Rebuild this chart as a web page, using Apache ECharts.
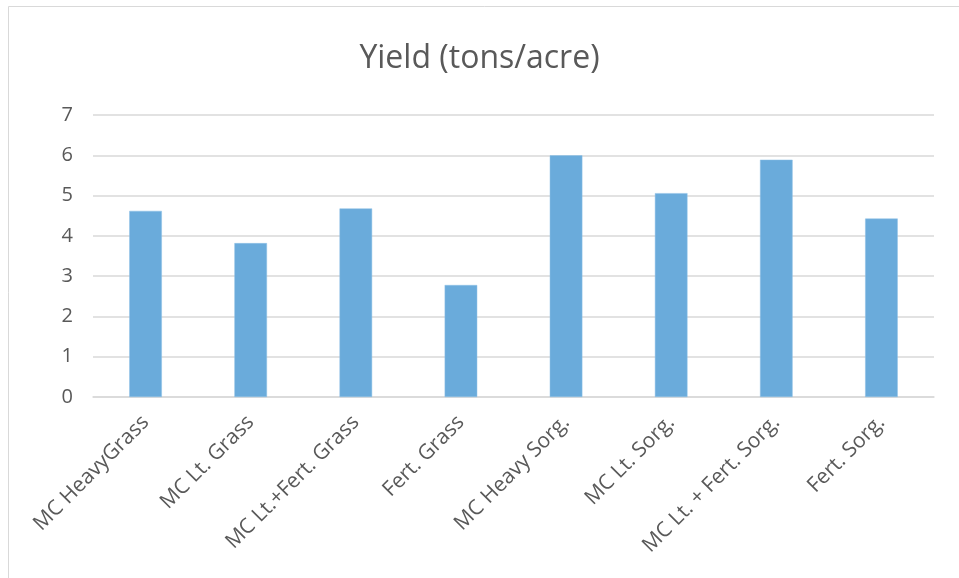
<!DOCTYPE html>
<html>
<head>
<meta charset="utf-8">
<script src="https://cdn.jsdelivr.net/npm/echarts@6/dist/echarts.min.js"></script>
<style>
  html, body { margin: 0; padding: 0; background: #fff; }
  #chart { width: 959px; height: 578px; }
</style>
</head>
<body>
<div id="chart"></div>
<script>
// categories along the x axis
const categories = [
  'MC HeavyGrass',
  'MC Lt. Grass',
  'MC Lt.+Fert. Grass',
  'Fert. Grass',
  'MC Heavy Sorg.',
  'MC Lt. Sorg.',
  'MC Lt. + Fert. Sorg.',
  'Fert. Sorg.'
]
// yield values
const yieldValues = [4.62, 3.82, 4.68, 2.78, 6.0, 5.06, 5.89, 4.43]
const titleText = 'Yield (tons/acre)'

const chart = echarts.init(document.getElementById('chart'))
const textColor = '#595959'
const fontFamily = '"Open Sans", "Noto Sans", sans-serif'

const option = {
  animation: false,
  backgroundColor: '#fff',
  title: {
    text: titleText,
    left: 'center',
    top: 38,
    textStyle: {
      color: textColor,
      fontSize: 32,
      fontWeight: 'normal',
      fontFamily: fontFamily
    }
  },
  // thin frame of the chart area, like the Excel chart border
  graphic: [
    {
      type: 'rect',
      shape: { x: 8.5, y: 6.5, width: 1000, height: 1000 },
      style: { fill: 'none', stroke: '#d9d9d9', lineWidth: 1 },
      silent: true
    }
  ],
  grid: {
    left: 93,
    right: 25,
    top: 115,
    bottom: 181
  },
  xAxis: {
    type: 'category',
    data: categories,
    axisLine: { show: true, lineStyle: { color: '#d9d9d9', width: 1.5 } },
    axisTick: { show: false },
    axisLabel: {
      rotate: 45,
      interval: 0,
      margin: 22,
      color: textColor,
      fontSize: 21,
      fontFamily: fontFamily
    }
  },
  yAxis: {
    type: 'value',
    min: 0,
    max: 7,
    interval: 1,
    axisLine: { show: false },
    axisTick: { show: false },
    splitLine: { lineStyle: { color: '#d9d9d9', width: 1.5 } },
    axisLabel: {
      margin: 20,
      color: textColor,
      fontSize: 20,
      fontFamily: fontFamily
    }
  },
  series: [
    {
      type: 'bar',
      data: yieldValues,
      barWidth: '31%',
      itemStyle: {
        color: '#6aabdb',
        borderColor: '#8fc0e6',
        borderWidth: 0.5
      }
    }
  ]
}
chart.setOption(option)
</script>
</body>
</html>
